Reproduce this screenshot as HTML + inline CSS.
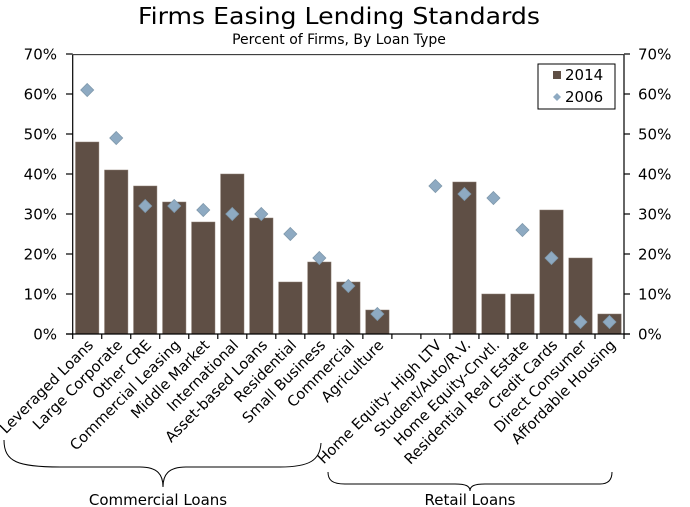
<!DOCTYPE html>
<html><head><style>body{margin:0;background:#fff}svg{display:block;font-family:"DejaVu Sans","Liberation Sans",sans-serif}</style></head>
<body>
<svg width="690" height="507" viewBox="0 0 690 507" xmlns="http://www.w3.org/2000/svg">
<text x="339" y="24" font-size="23" text-anchor="middle" textLength="402" lengthAdjust="spacingAndGlyphs">Firms Easing Lending Standards</text>
<text x="339" y="44" font-size="14" text-anchor="middle">Percent of Firms, By Loan Type</text>
<g id="bars" fill="#5f4f45" stroke="#8a7a70" stroke-width="0.5"></g>
<g stroke="#000" stroke-width="1.2" fill="none">
<line x1="72.7" y1="54.7" x2="624" y2="54.7" stroke-width="0.8"/>
<line x1="72.7" y1="54.7" x2="72.7" y2="334"/>
<line x1="624" y1="54.7" x2="624" y2="334"/>
<line x1="66" y1="334" x2="630" y2="334"/>
<g id="ticks"></g>
</g>
<g id="dia" fill="#8eaac2" stroke="#7f98ab" stroke-width="0.8"></g>
<g id="yl" font-size="15"></g>
<rect x="538" y="64" width="77" height="45" fill="#fff" stroke="#000" stroke-width="1"/>
<rect x="553" y="71" width="8" height="8" fill="#5f4f45"/>
<text x="565" y="80" font-size="15">2014</text>
<polygon points="557,93 561,97 557,101 553,97" fill="#8eaac2"/>
<text x="565" y="102" font-size="15">2006</text>
<g id="xl" font-size="14.7"></g>
<g stroke="#000" stroke-width="1" fill="none">
<path d="M4,440 C4,462 18,467 60,467 L140,467 C158,467 163,475 163,487 C163,475 168,467 186,467 L280,467 C310,467 320,460 321,443"/>
<path d="M328,472 C328,480 332,484 345,484 L455,484 C466,484 470,486 470,491 C470,486 474,484 485,484 L600,484 C608,484 612,480 612,472"/>
</g>
<text x="158" y="505" font-size="15" text-anchor="middle">Commercial Loans</text>
<text x="470" y="505" font-size="15" text-anchor="middle">Retail Loans</text>
<script>
var ns="http://www.w3.org/2000/svg";
function el(p,t,a,txt){var e=document.createElementNS(ns,t);for(var k in a)e.setAttribute(k,a[k]);if(txt)e.textContent=txt;document.getElementById(p).appendChild(e);}
var x0=72.7,w=29.0165,y0=334,s=4;
var b=[48,41,37,33,28,40,29,13,18,13,6,null,null,38,10,10,31,19,5];
var d=[61,49,32,32,31,30,30,25,19,12,5,null,37,35,34,26,19,3,3];
var n=["Leveraged Loans","Large Corporate","Other CRE","Commercial Leasing","Middle Market","International","Asset-based Loans","Residential","Small Business","Commercial","Agriculture","","Home Equity- High LTV","Student/Auto/R.V.","Home Equity-Cnvtl.","Residential Real Estate","Credit Cards","Direct Consumer","Affordable Housing"];
for(var i=0;i<19;i++){var c=x0+w*(i+0.5);
if(b[i]!=null)el("bars","rect",{x:c-11.7,y:y0-b[i]*s,width:23.4,height:b[i]*s});
if(d[i]!=null){var y=y0-d[i]*s;el("dia","polygon",{points:(c)+","+(y-6.5)+" "+(c+6.5)+","+y+" "+c+","+(y+6.5)+" "+(c-6.5)+","+y});}
if(n[i])el("xl","text",{x:0,y:0,"text-anchor":"end",transform:"translate("+(c+7)+",346) rotate(-45)"},n[i]);}
for(var i=0;i<=19;i++){var x=x0+w*i;el("ticks","line",{x1:x,y1:334,x2:x,y2:339});}
for(var v=0;v<=7;v++){var y=y0-v*40;
el("ticks","line",{x1:66,y1:y,x2:72.7,y2:y});el("ticks","line",{x1:624,y1:y,x2:630,y2:y});
el("yl","text",{x:57,y:y+5.5,"text-anchor":"end"},v*10+"%");
el("yl","text",{x:638,y:y+5.5},v*10+"%");}
</script>
</svg>
</body></html>
